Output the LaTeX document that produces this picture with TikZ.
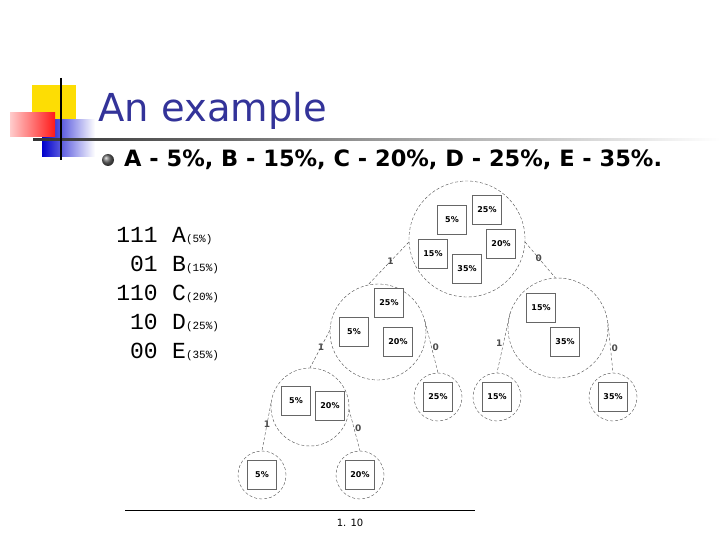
\documentclass[tikz,border=0pt]{standalone}
\usepackage{fontspec}
\setmainfont{DejaVu Sans}
\newfontfamily\monof{Liberation Mono}
\usetikzlibrary{shadows}
\definecolor{titleblue}{HTML}{333399}
\begin{document}
\begin{tikzpicture}[x=1pt,y=-1pt,
  bub/.style={circle,draw=black!70,densely dashed,line width=0.4pt,minimum size=#1,inner sep=0pt},
  box/.style={draw=black!60,fill=white,minimum size=29pt,inner sep=0pt,font=\bfseries\fontsize{8}{9}\selectfont,drop shadow={shadow xshift=0.8pt,shadow yshift=-0.8pt,fill=black!40}},
  edge/.style={densely dashed,black!70,line width=0.4pt},
  lab/.style={font=\bfseries\fontsize{9}{10}\selectfont,inner sep=1pt}]
\useasboundingbox (0,0) rectangle (720,540);
% decoration
\fill[yellow!80!orange] (32,85) rectangle (76,120);
\shade[left color=blue!80!black,right color=white] (42,120) rectangle (95,157);
\shade[left color=red!20,right color=red!90] (10,113) rectangle (55,137);
\shade[left color=black!80,right color=white] (33,139) rectangle (720,141);
\draw[line width=2pt] (61,78) -- (61,160);
\node[anchor=west,text=titleblue,font=\fontsize{38.5}{42}\selectfont,inner sep=0] (title) at (98,111) {An example};
\shade[ball color=black!60] (108,160) circle (6);
\node[anchor=west,font=\bfseries\fontsize{22.5}{25}\selectfont,inner sep=0] (bul) at (124,160) {A - 5\%, B - 15\%, C - 20\%, D - 25\%, E - 35\%.};
% code table
\foreach \c/\l/\p [count=\i] in {111/A/5,01/B/15,110/C/20,10/D/25,00/E/35}{
  \node[anchor=base east,font=\monof\fontsize{23}{24}\selectfont,inner sep=0] (c\i) at (158,{235+29*(\i-1)+7}) {\c};
  \node[anchor=base west,font=\monof\fontsize{23}{24}\selectfont,inner sep=0] (l\i) at (172,{235+29*(\i-1)+7}) {\l\fontsize{11}{12}\selectfont(\p\%)};
}
% circles
\node[bub=116pt] (top) at (467,239) {};
\node[bub=96pt] (lm) at (378,332) {};
\node[bub=100pt] (rm) at (558,328) {};
\node[bub=78pt] (ll) at (310,407) {};
\node[bub=48pt] (f25) at (438,397) {};
\node[bub=48pt] (f15) at (497,397) {};
\node[bub=48pt] (f35) at (613,397) {};
\node[bub=48pt] (f5) at (262,475) {};
\node[bub=48pt] (f20) at (360,475) {};
% boxes
\node[box] at (452,220) {5\%};
\node[box] at (487,210) {25\%};
\node[box] at (433,254) {15\%};
\node[box] at (501,244) {20\%};
\node[box] at (467,269) {35\%};
\node[box] at (389,303) {25\%};
\node[box] at (354,332) {5\%};
\node[box] at (398,342) {20\%};
\node[box] at (541,308) {15\%};
\node[box] at (565,342) {35\%};
\node[box] at (296,401) {5\%};
\node[box] at (330,406) {20\%};
\node[box] at (438,397) {25\%};
\node[box] at (497,397) {15\%};
\node[box] at (613,397) {35\%};
\node[box] at (262,475) {5\%};
\node[box] at (360,475) {20\%};
% edges
\draw[edge] (top.183) -- node[lab,pos=0.45] {1} (lm.102);
\draw[edge] (top.357) -- node[lab,pos=0.45] {0} (rm.93);
\draw[edge] (lm.178) -- node[lab,pos=0.45] {1} (ll.90);
\draw[edge] (lm.13) -- node[lab,pos=0.5,right] {0} (f25.90);
\draw[edge] (rm.163) -- node[lab,pos=0.5,left] {1} (f15.90);
\draw[edge] (rm.6) -- node[lab,pos=0.5,right] {0} (f35.90);
\draw[edge] (ll.174) -- node[lab,pos=0.45] {1} (f5.90);
\draw[edge] (ll.356) -- node[lab,pos=0.45,right] {0} (f20.90);
% footer
\draw[line width=0.6pt] (125,510) -- (475,510);
\node[font=\fontsize{10}{12}\selectfont] (pg) at (350,523) {1. 10};
\end{tikzpicture}
\end{document}
